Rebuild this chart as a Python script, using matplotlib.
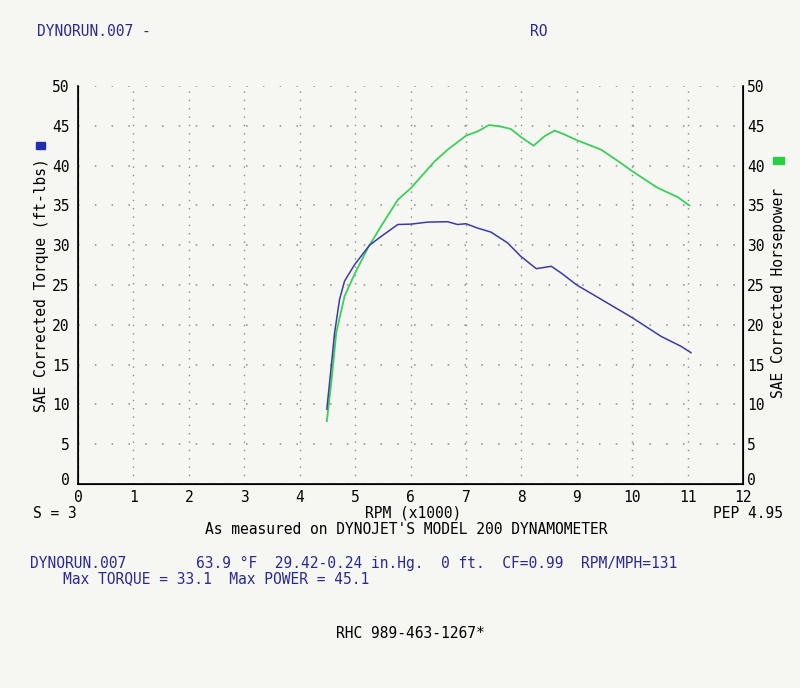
import matplotlib
matplotlib.use("Agg")
import matplotlib.pyplot as plt
from matplotlib.transforms import ScaledTranslation

# values (rpm in thousands)
torque_rpm = [4.49, 4.57, 4.63, 4.72, 4.81, 4.99, 5.26, 5.47, 5.77, 6.01, 6.31, 6.67,
              6.85, 7.0, 7.21, 7.45, 7.75, 7.99, 8.27, 8.54, 8.72, 9.0, 9.44, 10.0,
              10.52, 10.88, 11.06]
torque = [9.4, 14.8, 19.0, 23.2, 25.5, 27.55, 30.0, 31.1, 32.6, 32.65, 32.9, 32.95,
          32.6, 32.7, 32.15, 31.65, 30.3, 28.6, 27.05, 27.35, 26.5, 25.0, 23.2, 20.9,
          18.55, 17.3, 16.5]

hp_rpm = [4.49, 4.57, 4.66, 4.81, 5.0, 5.23, 5.47, 5.77, 6.01, 6.43, 6.67, 7.0, 7.21,
          7.42, 7.63, 7.81, 7.99, 8.22, 8.42, 8.6, 8.78, 9.0, 9.44, 9.8, 10.0, 10.46,
          10.82, 11.03]
horsepower = [7.9, 12.7, 19.0, 23.6, 26.5, 29.65, 32.4, 35.7, 37.2, 40.5, 42.0, 43.75,
              44.3, 45.1, 44.9, 44.6, 43.6, 42.5, 43.7, 44.4, 43.9, 43.2, 42.0, 40.3,
              39.3, 37.2, 36.05, 35.0]

x_ticks = list(range(0, 13))
y_ticks = list(range(0, 51, 5))

bg = "#f6f6f3"
blue_txt = "#2a2a96"
mono = "DejaVu Sans Mono"

fig = plt.figure(figsize=(8, 6.88), dpi=100, facecolor=bg)
ax = fig.add_axes([0.0975, 0.2965, 0.8313, 0.5785])
ax.set_facecolor(bg)

ax.plot(hp_rpm, horsepower, color="#3ccf5a", lw=1.3)
ax.plot(torque_rpm, torque, color="#3b3ba6", lw=1.1)

ax.set_xlim(0, 12)
ax.set_ylim(0, 50)
ax.set_xticks(x_ticks)
ax.set_yticks(y_ticks)
ax.xaxis.grid(True, color="#8a8a8a", linestyle=(0, (1, 5)), lw=1.0)
ax.yaxis.grid(True, color="#8a8a8a", linestyle=(0, (1, 10)), lw=1.1)
ax.spines["top"].set_visible(False)
for s in ["left", "bottom", "right"]:
    ax.spines[s].set_linewidth(1.2)
ax.tick_params(axis="y", length=0, labelsize=10.5, pad=6)
ax.tick_params(axis="x", length=0, labelsize=10.5, pad=4)
for lab in ax.get_xticklabels() + ax.get_yticklabels():
    lab.set_family(mono)

ax2 = ax.twinx()
ax2.set_ylim(0, 50)
ax2.set_yticks(y_ticks)
ax2.spines["top"].set_visible(False)
ax2.tick_params(length=0, labelsize=10.5, pad=3)
for lab in ax2.get_yticklabels():
    lab.set_family(mono)

# zero labels sit just above the bottom axis line
lift = ScaledTranslation(0, 5 / 100, fig.dpi_scale_trans)
for a in (ax, ax2):
    zero = a.yaxis.get_major_ticks()[0]
    for lab in (zero.label1, zero.label2):
        lab.set_transform(lab.get_transform() + lift)

def px(x, y):
    return x / 800, 1 - y / 688

fs = 10.5
fig.text(*px(37, 32), "DYNORUN.007 -", color=blue_txt, family=mono, fontsize=fs, va="center")
fig.text(*px(530, 32), "RO", color=blue_txt, family=mono, fontsize=fs, va="center")

fig.text(*px(42, 285), "SAE Corrected Torque (ft-lbs)", rotation=90, family=mono,
         fontsize=fs, ha="center", va="center")
fig.text(*px(778, 293), "SAE Corrected Horsepower", rotation=90, family=mono,
         fontsize=fs, ha="center", va="center")
fig.patches.append(plt.Rectangle(px(36, 149), 9 / 800, 7 / 688, transform=fig.transFigure,
                                 color="#1f2fb0", figure=fig))
fig.patches.append(plt.Rectangle(px(773, 164), 11 / 800, 7 / 688, transform=fig.transFigure,
                                 color="#28d040", figure=fig))

fig.text(*px(33, 513), "S = 3", family=mono, fontsize=fs, va="center")
fig.text(*px(413, 513), "RPM (x1000)", family=mono, fontsize=fs, ha="center", va="center")
fig.text(*px(783, 513), "PEP 4.95", family=mono, fontsize=fs, ha="right", va="center")
fig.text(*px(406, 529), "As measured on DYNOJET'S MODEL 200 DYNAMOMETER", family=mono,
         fontsize=fs, ha="center", va="center")

fig.text(*px(30, 563), "DYNORUN.007", color=blue_txt, family=mono, fontsize=fs, va="center")
fig.text(*px(196, 563), "63.9 \u00b0F  29.42-0.24 in.Hg.  0 ft.  CF=0.99  RPM/MPH=131",
         color=blue_txt, family=mono, fontsize=fs, va="center")
fig.text(*px(63, 579), "Max TORQUE = 33.1  Max POWER = 45.1", color=blue_txt, family=mono,
         fontsize=fs, va="center")
fig.text(*px(410, 633), "RHC 989-463-1267*", family=mono, fontsize=fs, ha="center", va="center")

fig.savefig("out.png", dpi=100, facecolor=bg)
